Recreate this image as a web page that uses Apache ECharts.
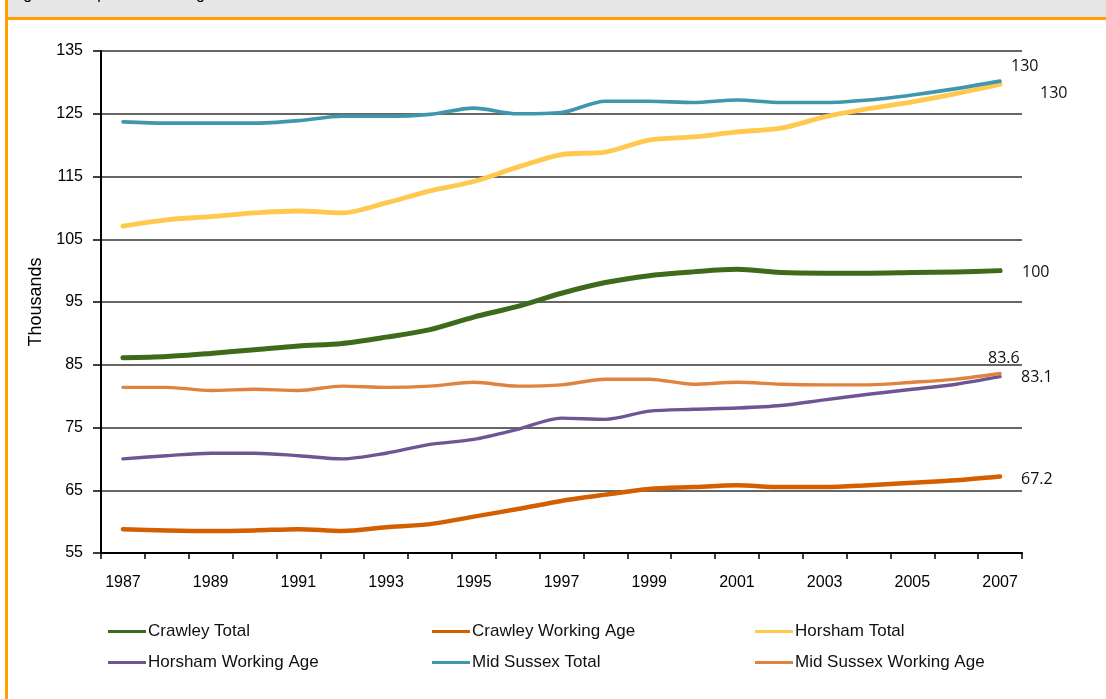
<!DOCTYPE html>
<html>
<head>
<meta charset="utf-8">
<script src="https://cdn.jsdelivr.net/npm/echarts@6/dist/echarts.min.js"></script>
<style>
  html, body { margin: 0; padding: 0; background: #fff; }
  #chart { width: 1106px; height: 699px; }
</style>
</head>
<body>
<div id="chart"></div>
<script>
// population, thousands, 1987-2007
const years = ["1987", "1988", "1989", "1990", "1991", "1992", "1993", "1994", "1995", "1996", "1997",
  "1998", "1999", "2000", "2001", "2002", "2003", "2004", "2005", "2006", "2007"];

const crawleyTotal = [86.1, 86.3, 86.8, 87.4, 88.0, 88.4, 89.4, 90.6, 92.6, 94.3, 96.4,
  98.1, 99.2, 99.8, 100.2, 99.7, 99.6, 99.6, 99.7, 99.8, 100.0];
const crawleyWorking = [58.8, 58.6, 58.5, 58.6, 58.8, 58.5, 59.1, 59.6, 60.8, 62.0, 63.3,
  64.3, 65.2, 65.5, 65.8, 65.5, 65.5, 65.8, 66.2, 66.6, 67.2];
const horshamTotal = [107.1, 108.1, 108.6, 109.2, 109.5, 109.2, 110.8, 112.7, 114.2, 116.5, 118.5,
  118.9, 120.8, 121.3, 122.1, 122.7, 124.5, 125.8, 126.9, 128.2, 129.7];
const horshamWorking = [70.0, 70.5, 70.9, 70.9, 70.5, 70.0, 70.9, 72.3, 73.1, 74.7, 76.5,
  76.3, 77.6, 77.9, 78.1, 78.5, 79.4, 80.3, 81.1, 81.9, 83.1];
const midSussexTotal = [123.7, 123.5, 123.5, 123.5, 123.9, 124.6, 124.6, 124.9, 125.9, 125.0, 125.2,
  127.0, 127.0, 126.8, 127.2, 126.8, 126.8, 127.2, 128.0, 129.0, 130.2];
const midSussexWorking = [81.4, 81.4, 80.9, 81.1, 80.9, 81.6, 81.4, 81.6, 82.2, 81.6, 81.8,
  82.7, 82.7, 81.9, 82.2, 81.9, 81.8, 81.8, 82.2, 82.7, 83.6];

const seriesNames = ["Crawley Total", "Crawley Working Age", "Horsham Total",
  "Horsham Working Age", "Mid Sussex Total", "Mid Sussex Working Age"];
const seriesData = [crawleyTotal, crawleyWorking, horshamTotal, horshamWorking, midSussexTotal, midSussexWorking];
const endLabels = ["100", "67.2", "130", "83.1", "130", "83.6"];

const yTicks = { min: 55, max: 135, step: 10 };

// styling
const colors = ["#3e6b1b", "#d45f00", "#ffc94f", "#6e5594", "#3f97ad", "#e0833e"];
const widths = [5, 4.5, 4.8, 3.4, 3.6, 3.4];
const labelOffsets = [[14, 2], [13, 3], [32, 9], [13, 1], [3, -15], [-20, -15]];
const legendPos = [[108, 623], [432, 623], [755, 623], [108, 654], [432, 654], [755, 654]];
const orange = "#ff9f00";
const font = "'Liberation Sans', Arial, sans-serif";

const chart = echarts.init(document.getElementById("chart"), null, { renderer: "canvas" });

chart.setOption({
  animation: false,
  backgroundColor: "#fff",
  textStyle: { fontFamily: font },
  graphic: [
    { type: "rect", shape: { x: 5, y: 0, width: 1101, height: 17 }, style: { fill: "#e6e6e6" }, silent: true },
    { type: "rect", shape: { x: 5, y: 17, width: 1101, height: 3 }, style: { fill: orange }, silent: true },
    { type: "rect", shape: { x: 5, y: 0, width: 3, height: 699 }, style: { fill: orange }, silent: true },
    {
      type: "text", x: 10, y: 3,
      style: { text: "Figure 3: Population Change 1987-2007", fill: "#000", font: "16px " + font, textVerticalAlign: "bottom" },
      silent: true
    }
  ],
  grid: { left: 101, right: 84, top: 51, bottom: 146, outerBoundsMode: "none", containLabel: false },
  legend: seriesNames.map((name, i) => ({
    data: [name],
    left: legendPos[i][0],
    top: legendPos[i][1],
    icon: "rect",
    itemWidth: 38,
    itemHeight: 3,
    itemGap: 0,
    padding: 0,
    textStyle: { fontSize: 17, color: "#111", fontFamily: font, padding: [0, 0, 0, -3] }
  })),
  xAxis: {
    type: "category",
    data: years,
    boundaryGap: true,
    axisLine: { lineStyle: { color: "#000", width: 2 } },
    axisTick: { show: true, interval: 0, length: 6, lineStyle: { color: "#000", width: 1.5 } },
    axisLabel: { interval: 1, color: "#000", fontSize: 16, margin: 22, fontFamily: font },
    splitLine: { show: false }
  },
  yAxis: {
    type: "value",
    min: yTicks.min,
    max: yTicks.max,
    interval: yTicks.step,
    name: "Thousands",
    nameLocation: "middle",
    nameGap: 54,
    nameRotate: 90,
    nameTextStyle: { fontSize: 18, color: "#000", fontFamily: font },
    axisLine: { show: true, lineStyle: { color: "#000", width: 2 } },
    axisTick: { show: true, length: 8, lineStyle: { color: "#000", width: 1.5 } },
    axisLabel: { color: "#000", fontSize: 16, margin: 18, fontFamily: font },
    splitLine: { show: true, lineStyle: { color: "#333", width: 1.6 } }
  },
  series: seriesNames.map((name, i) => ({
    name: name,
    type: "line",
    data: seriesData[i],
    smooth: 0.3,
    showSymbol: false,
    symbol: "none",
    color: colors[i],
    lineStyle: { color: colors[i], width: widths[i], cap: "round", join: "round" },
    endLabel: {
      show: true,
      formatter: () => endLabels[i],
      offset: labelOffsets[i],
      color: "#111",
      fontSize: 16,
      fontFamily: "'Open Sans', sans-serif"
    },
    emphasis: { disabled: true }
  }))
});
</script>
</body>
</html>
